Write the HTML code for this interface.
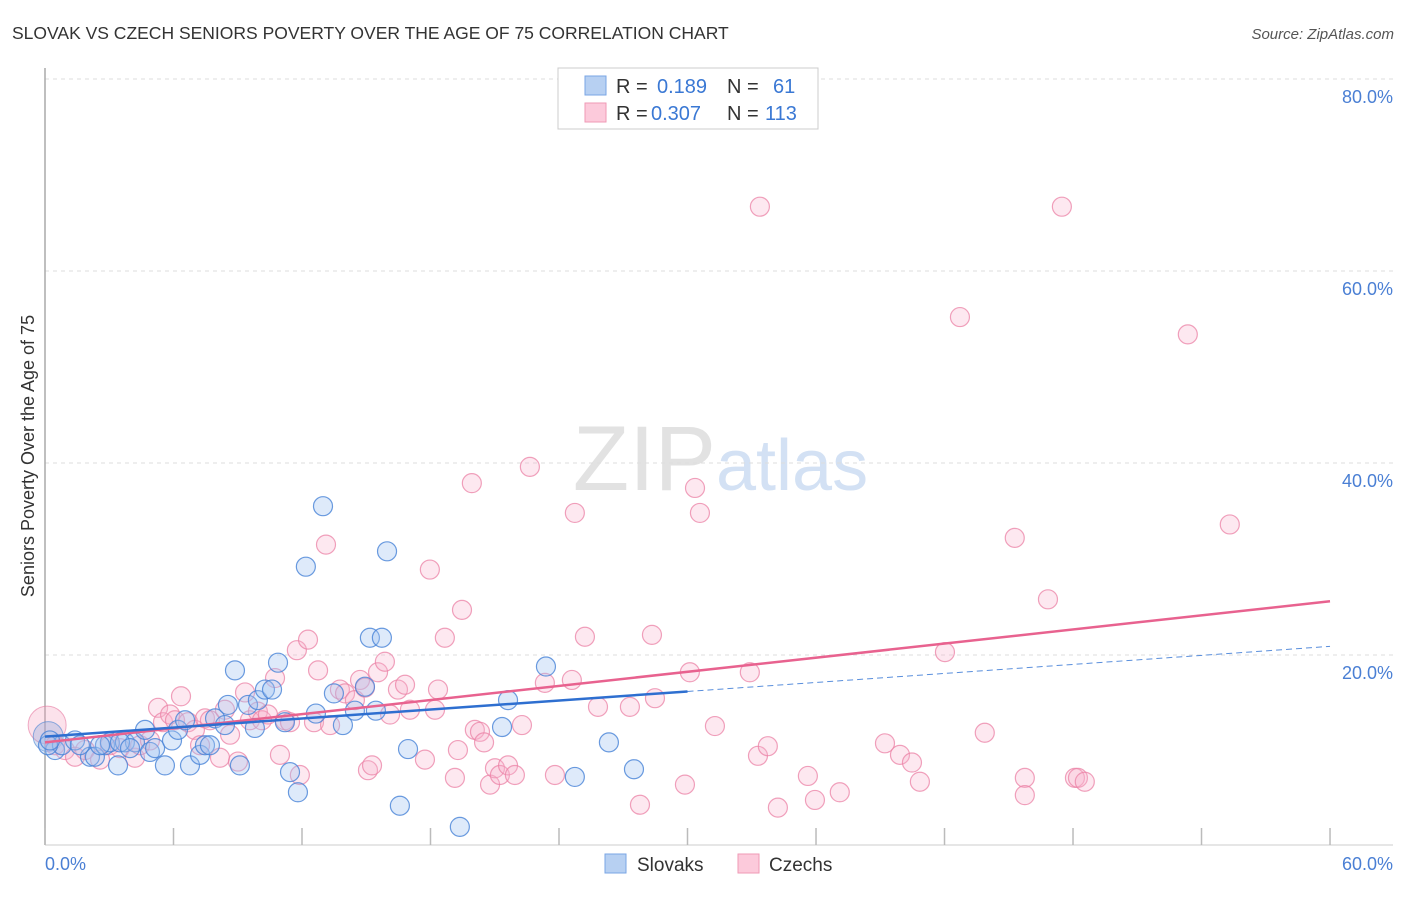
<!DOCTYPE html>
<html><head><meta charset="utf-8"><style>
body{margin:0;background:#fff;font-family:"Liberation Sans",sans-serif;}
svg text{font-family:"Liberation Sans",sans-serif;}
</style></head><body>
<svg id="chart" width="1406" height="892" xmlns="http://www.w3.org/2000/svg">
<text x="12" y="39" font-size="17.5" fill="#333">SLOVAK VS CZECH SENIORS POVERTY OVER THE AGE OF 75 CORRELATION CHART</text>
<text x="1394" y="39" font-size="15" fill="#555" font-style="italic" text-anchor="end">Source: ZipAtlas.com</text>
<text x="716" y="490" font-size="92" fill="#e2e2e2" text-anchor="end" font-family="Liberation Serif">ZIP</text>
<text x="716" y="490" font-size="72" fill="#d3e1f4">atlas</text>
<g id="grid"></g>
<g id="axes"></g>
<g id="pts"></g>
<g id="lines"></g>
<text x="34" y="456" font-size="18" fill="#333" text-anchor="middle" transform="rotate(-90 34 456)">Seniors Poverty Over the Age of 75</text>
<g>
<rect x="558" y="68" width="260" height="61" fill="#fff" stroke="#ccc"/>
<rect x="585" y="76" width="21" height="19" fill="#b7d0f2" stroke="#7aa6e4"/>
<rect x="585" y="103" width="21" height="19" fill="#fccadb" stroke="#ef9ab6"/>
<text x="616" y="93" font-size="20" fill="#333">R = </text><text x="657" y="93" font-size="20" fill="#3a78d4">0.189</text>
<text x="727" y="93" font-size="20" fill="#333">N = </text><text x="773" y="93" font-size="20" fill="#3a78d4">61</text>
<text x="616" y="120" font-size="20" fill="#333">R = </text><text x="651" y="120" font-size="20" fill="#3a78d4">0.307</text>
<text x="727" y="120" font-size="20" fill="#333">N = </text><text x="765" y="120" font-size="20" fill="#3a78d4">113</text>
</g>
<g>
<rect x="605" y="854" width="21" height="19" fill="#b7d0f2" stroke="#7aa6e4"/>
<text x="637" y="871" font-size="19" fill="#333">Slovaks</text>
<rect x="738" y="854" width="21" height="19" fill="#fccadb" stroke="#ef9ab6"/>
<text x="769" y="871" font-size="19" fill="#333">Czechs</text>
</g>
</svg>
<script>
const yTicks=[20,40,60,80];
const yTickLabels=["20.0%","40.0%","60.0%","80.0%"];
const xTicks=[0,6,12,18,24,30,36,42,48,54,60];
const slovakX=[0.47,0.79,1.40,2.10,2.33,2.80,3.03,3.41,3.73,4.20,4.67,4.90,5.14,5.60,5.93,6.21,6.54,6.77,7.24,7.47,7.70,7.94,8.40,8.54,8.87,9.10,9.48,9.80,9.94,10.27,10.60,10.88,11.20,11.44,11.81,12.18,12.65,12.98,13.49,13.91,14.47,14.94,15.17,15.45,15.73,15.97,16.57,16.95,19.37,21.34,21.62,23.39,24.74,26.33,27.50,0.14,0.23,1.63,2.57,3.50,3.97];
const slovakY=[10.1,10.6,11.1,9.4,9.4,10.6,10.9,8.5,10.9,10.9,12.2,9.9,10.3,8.5,11.1,12.2,13.2,8.5,9.6,10.6,10.6,13.4,12.7,14.8,18.4,8.5,14.8,12.4,15.3,16.4,16.4,19.2,13.0,7.8,5.7,29.2,13.9,35.5,16.0,12.7,14.2,16.7,21.8,14.2,21.8,30.8,4.3,10.2,2.1,12.5,15.3,18.8,7.3,10.9,8.1,10.6,11.1,10.6,10.6,10.9,10.3];
const czechX=[0.47,0.93,1.40,1.87,2.57,3.03,3.50,4.20,4.44,4.90,5.28,5.51,5.84,6.07,6.35,6.68,7.00,7.24,7.47,7.70,8.17,8.40,8.64,9.01,9.34,9.57,9.94,10.13,10.41,10.74,10.97,11.20,11.44,11.76,11.90,12.28,12.56,12.75,13.12,13.31,13.77,14.01,14.47,14.71,14.94,15.08,15.27,15.55,15.87,16.11,16.48,16.81,17.04,17.74,17.97,18.21,18.35,18.67,19.14,19.28,19.47,19.93,20.07,20.31,20.50,20.78,21.01,21.24,21.62,21.94,22.27,22.64,23.34,23.81,24.60,24.74,25.21,25.82,27.31,27.78,28.34,28.48,29.88,30.11,30.35,30.58,31.28,32.91,33.29,33.75,33.38,34.22,35.62,35.95,37.11,39.22,39.92,40.48,40.85,42.02,42.72,43.88,45.28,45.75,45.75,46.83,47.48,48.09,48.23,48.55,53.36,55.32];
const czechY=[10.6,10.1,9.4,10.1,9.1,10.6,10.3,9.3,10.6,11.1,14.5,13.0,13.8,13.2,15.7,13.0,12.2,10.6,13.4,13.2,9.3,14.3,11.7,8.9,16.1,13.2,14.1,13.2,13.8,17.6,9.6,13.2,13.0,20.5,7.5,21.6,13.0,18.4,31.5,12.7,16.4,16.0,15.3,17.4,16.6,8.0,8.5,18.2,19.3,13.8,16.4,16.9,14.3,9.1,28.9,14.3,16.4,21.8,7.2,10.1,24.7,37.9,12.2,12.0,10.9,6.5,8.2,7.5,8.5,7.5,12.7,39.6,17.1,7.5,17.4,34.8,21.9,14.6,14.6,4.4,22.1,15.5,6.5,18.2,37.4,34.8,12.6,18.2,9.5,10.5,66.7,4.1,7.4,4.9,5.7,10.8,9.6,8.8,6.8,20.3,55.2,11.9,32.2,7.2,5.4,25.8,66.7,7.2,7.2,6.8,53.4,33.6];
const slovakTrend=[11.5,20.9]; // at x=0 and x=60
const slovakSolidEnd=30;
const czechTrend=[10.9,25.6];

const NS="http://www.w3.org/2000/svg";
const X=v=>45+v*21.417, Y=v=>847-v*9.6;
function mk(tag,attrs,parent){const e=document.createElementNS(NS,tag);for(const k in attrs)e.setAttribute(k,attrs[k]);parent.appendChild(e);return e;}
const grid=document.getElementById('grid'),axes=document.getElementById('axes'),pts=document.getElementById('pts'),lines=document.getElementById('lines');
yTicks.forEach((t,i)=>{
 const l=mk('line',{x1:45,x2:1393,y1:Y(t),y2:Y(t),stroke:'#ddd','stroke-dasharray':'4,4'},grid);
 
 
 const tx=mk('text',{x:1393,y:Y(t)+24,'font-size':18,fill:'#4a7fd4','text-anchor':'end'},grid);
 tx.textContent=yTickLabels[i];
 
 
});
const ax=mk('line',{x1:45,x2:45,y1:68,y2:845,stroke:'#aaa','stroke-width':1.5},axes);


const bx=mk('line',{x1:45,x2:1393,y1:845,y2:845,stroke:'#ccc'},axes);


xTicks.forEach(t=>{
 const l=mk('line',{x1:X(t),x2:X(t),y1:828,y2:845,stroke:'#bbb','stroke-width':1.5},axes);
 
 
});
const x0=mk('text',{x:45,y:870,'font-size':18,fill:'#4a7fd4'},axes);x0.textContent='0.0%';


const x1=mk('text',{x:1393,y:870,'font-size':18,fill:'#4a7fd4','text-anchor':'end'},axes);x1.textContent='60.0%';


const bp=mk('circle',{cx:X(0.1),cy:Y(12.7),r:19,fill:'rgba(245,160,190,0.3)',stroke:'rgba(230,120,160,0.6)'},pts);


const bb=mk('circle',{cx:X(0.15),cy:Y(11.5),r:15,fill:'rgba(140,170,220,0.35)',stroke:'rgba(70,130,210,0.6)'},pts);


czechX.forEach((v,i)=>{
 const c=mk('circle',{cx:X(v),cy:Y(czechY[i]),r:9.5,fill:'rgba(248,180,204,0.3)',stroke:'rgba(235,130,165,0.75)','stroke-width':1.2},pts);
 
 
});
slovakX.forEach((v,i)=>{
 const c=mk('circle',{cx:X(v),cy:Y(slovakY[i]),r:9.5,fill:'rgba(160,195,240,0.35)',stroke:'rgba(70,130,215,0.8)','stroke-width':1.2},pts);
 
 
});
const sy=x=>slovakTrend[0]+(slovakTrend[1]-slovakTrend[0])*x/60;
const cl=mk('line',{x1:X(0),y1:Y(czechTrend[0]),x2:X(60),y2:Y(czechTrend[1]),stroke:'#e8628f','stroke-width':2.5},lines);


const sl=mk('line',{x1:X(0),y1:Y(sy(0)),x2:X(slovakSolidEnd),y2:Y(sy(slovakSolidEnd)),stroke:'#2e6fd0','stroke-width':2.5},lines);


const sd=mk('line',{x1:X(slovakSolidEnd),y1:Y(sy(slovakSolidEnd)),x2:X(60),y2:Y(sy(60)),stroke:'#5a8fdc','stroke-width':1,'stroke-dasharray':'6,4'},lines);


</script>
</body></html>
